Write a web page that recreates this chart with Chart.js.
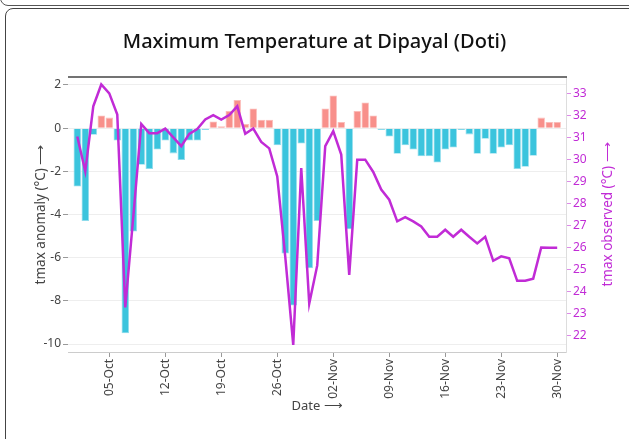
<!DOCTYPE html>
<html>
<head>
<meta charset="utf-8">
<script src="https://cdn.jsdelivr.net/npm/chart.js@4"></script>
<style>
  html, body { margin: 0; padding: 0; background: #fff; width: 629px; height: 439px; overflow: hidden; }
  .card-prev { position: absolute; left: 0; top: -40px; width: 700px; height: 44px; border: 1.5px solid #555; border-radius: 8px; }
  .card { position: absolute; left: 5px; top: 8px; width: 700px; height: 500px; border: 1.5px solid #444; border-radius: 8px; }
  #wrap { position: absolute; left: 0; top: 0; width: 629px; height: 439px; }
</style>
</head>
<body>
<div class="card-prev"></div>
<div class="card"></div>
<div id="wrap"><canvas id="chart" width="629" height="439"></canvas></div>
<script>
// days from 01-Oct to 30-Nov
const months = [['Oct', 31], ['Nov', 30]];
const dates = [];
months.forEach(([m, n]) => {
    for (let d = 1; d <= n; d++) dates.push(String(d).padStart(2, '0') + '-' + m);
});

const tickLabels = ['05-Oct', '12-Oct', '19-Oct', '26-Oct', '02-Nov', '09-Nov', '16-Nov', '23-Nov', '30-Nov'];

// tmax anomaly (°C), left axis
const tmaxAnomaly = [
    -2.70, -4.30, -0.31, 0.59, 0.49, -0.57, -9.50, -4.79, -1.70, -1.89,
    -0.99, -0.57, -1.17, -1.48, -0.57, -0.57, -0.08, 0.31, 0.09, 0.80,
    1.31, 0.19, 0.91, 0.39, 0.39, -0.79, -5.81, -8.22, -0.71, -6.49,
    -4.30, 0.91, 1.51, 0.29, -4.68, 0.79, 1.19, 0.59, -0.08, -0.39,
    -1.19, -0.79, -0.99, -1.30, -1.30, -1.59, -0.99, -0.90, -0.09, -0.29,
    -1.19, -0.49, -1.19, -0.90, -0.79, -1.89, -1.79, -1.28, 0.49, 0.29,
    0.29
];

// tmax observed (°C), right axis
const tmaxObserved = [
    31.05, 29.47, 32.42, 33.41, 33.01, 32.05, 23.29, 27.40, 31.62, 31.20,
    31.20, 31.41, 31.01, 30.61, 31.17, 31.39, 31.82, 32.02, 31.82, 32.02,
    32.42, 31.17, 31.41, 30.80, 30.51, 29.24, 25.60, 21.59, 29.62, 23.47,
    25.20, 30.61, 31.29, 30.23, 24.77, 30.00, 30.00, 29.44, 28.64, 28.18,
    27.20, 27.39, 27.20, 26.97, 26.50, 26.50, 26.82, 26.50, 26.82, 26.50,
    26.20, 26.50, 25.41, 25.61, 25.52, 24.50, 24.50, 24.60, 26.01, 26.00,
    26.00
];

const anomalyTicks = [-10, -8, -6, -4, -2, 0, 2];
const observedTicks = [22, 23, 24, 25, 26, 27, 28, 29, 30, 31, 32, 33];

const FONT = "'Noto Sans', 'Open Sans', sans-serif";
const LINE_COLOR = '#c12bd6';
const NEG_COLOR = '#3bc4dd';
const POS_COLOR = '#f8908b';
const TEXT_COLOR = '#444';

Chart.defaults.font.family = FONT;

// top frame line + right axis title (reads bottom to top)
const extras = {
    id: 'extras',
    afterDraw(chart) {
        const { ctx, chartArea } = chart;
        ctx.save();
        ctx.strokeStyle = '#444';
        ctx.lineWidth = 1.5;
        ctx.beginPath();
        ctx.moveTo(chartArea.left, chartArea.top);
        ctx.lineTo(chartArea.right + 1, chartArea.top);
        ctx.stroke();

        ctx.translate(608, (chartArea.top + chartArea.bottom) / 2);
        ctx.rotate(-Math.PI / 2);
        ctx.fillStyle = LINE_COLOR;
        ctx.font = '13.5px ' + FONT;
        ctx.textAlign = 'center';
        ctx.textBaseline = 'middle';
        ctx.fillText('tmax observed (°C) ⟶', 0, 0);
        ctx.restore();
    }
};

const ctx = document.getElementById('chart');
new Chart(ctx, {
    data: {
        datasets: [
            {
                type: 'line',
                label: 'tmax observed',
                data: tmaxObserved.map((v, i) => ({ x: i, y: v })),
                yAxisID: 'y1',
                borderColor: LINE_COLOR,
                borderWidth: 2.5,
                pointRadius: 0,
                tension: 0,
                order: 0
            },
            {
                type: 'bar',
                label: 'tmax anomaly',
                data: tmaxAnomaly.map((v, i) => ({ x: i, y: v })),
                yAxisID: 'y',
                backgroundColor: tmaxAnomaly.map(v => v < 0 ? NEG_COLOR : POS_COLOR),
                borderColor: tmaxAnomaly.map(v => v < 0 ? '#8fdcec' : '#fbbcb8'),
                borderWidth: 0.8,
                barPercentage: 0.93,
                categoryPercentage: 1,
                order: 1
            }
        ]
    },
    options: {
        responsive: false,
        animation: false,
        layout: { padding: 0 },
        plugins: {
            legend: { display: false },
            tooltip: { enabled: false },
            title: {
                display: true,
                text: 'Maximum Temperature at Dipayal (Doti)',
                color: '#111',
                font: { size: 20, weight: '500' },
                padding: { top: 30, bottom: 23 }
            }
        },
        scales: {
            x: {
                type: 'linear',
                min: -1.16,
                max: 61.1,
                offset: false,
                afterBuildTicks: s => { s.ticks = tickLabels.map(l => ({ value: dates.indexOf(l) })); },
                afterFit: s => { s.height = 87; },
                ticks: {
                    autoSkip: false,
                    minRotation: 90,
                    maxRotation: 90,
                    padding: 2,
                    color: TEXT_COLOR,
                    font: { size: 12 },
                    callback: v => dates[v]
                },
                grid: { drawOnChartArea: false, offset: false, tickLength: 5, tickColor: '#999' },
                border: { color: '#ccc' },
                title: {
                    display: true,
                    text: 'Date ⟶',
                    color: TEXT_COLOR,
                    font: { size: 13 },
                    padding: { top: 0, bottom: 25 }
                }
            },
            y: {
                position: 'left',
                min: -10.37,
                max: 2.37,
                afterBuildTicks: s => { s.ticks = anomalyTicks.map(v => ({ value: v })); },
                afterFit: s => { s.width = 68; },
                ticks: { color: TEXT_COLOR, font: { size: 12 }, padding: 2 },
                grid: { color: '#eee', tickColor: '#999', tickLength: 5 },
                border: { display: false },
                title: {
                    display: true,
                    text: 'tmax anomaly (°C) ⟶',
                    color: TEXT_COLOR,
                    font: { size: 13.5 },
                    padding: { top: 33, bottom: 0 }
                }
            },
            y1: {
                position: 'right',
                min: 21.27,
                max: 33.75,
                afterBuildTicks: s => { s.ticks = observedTicks.map(v => ({ value: v })); },
                afterFit: s => { s.width = 63; },
                ticks: { color: LINE_COLOR, font: { size: 12 }, padding: 2 },
                grid: { drawOnChartArea: false, tickColor: 'rgba(193,43,214,0.55)', tickLength: 5 },
                border: { color: '#ddd' }
            }
        }
    },
    plugins: [extras]
});
</script>
</body>
</html>
